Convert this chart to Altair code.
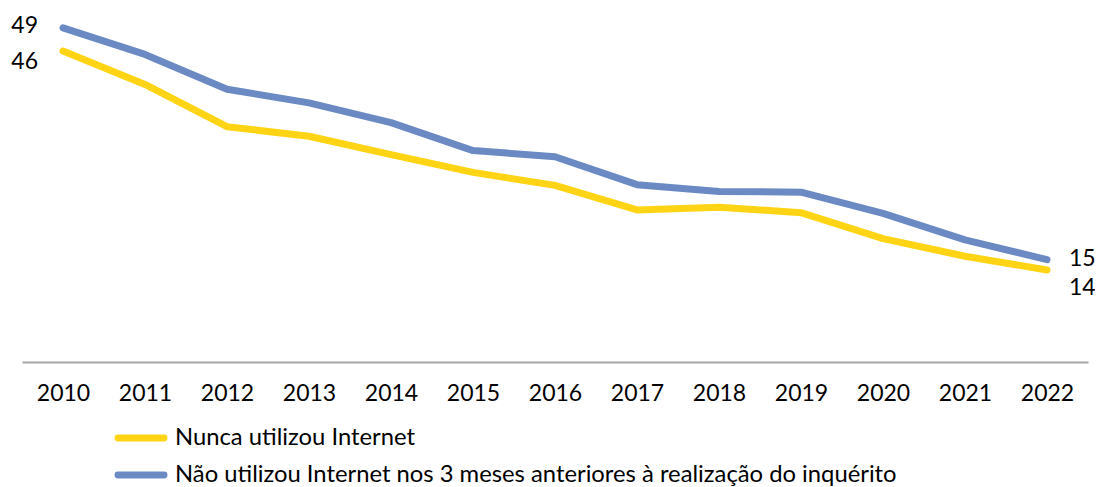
import altair as alt
import pandas as pd

years = [str(y) for y in range(2010, 2023)]
nunca = [45.6, 40.7, 34.5, 33.1, 30.4, 27.8, 25.9, 22.3, 22.7, 21.9, 18.1, 15.5, 13.5]
nao = [49.0, 45.1, 40.0, 38.0, 35.1, 31.0, 30.1, 26.0, 25.0, 24.9, 21.8, 17.9, 15.0]
series_names = [
    "Nunca utilizou Internet",
    "Não utilizou Internet nos 3 meses anteriores à realização do inquérito",
]
colors = ["#FFD414", "#6B8AC4"]

df = pd.DataFrame({
    "ano": years * 2,
    "valor": nunca + nao,
    "serie": [series_names[0]] * len(years) + [series_names[1]] * len(years),
})

FONT = "Lato"
FS = 23

capsule = ("M-1,-0.065 L1,-0.065 A0.065,0.065 0 0 1 1,0.065 "
           "L-1,0.065 A0.065,0.065 0 0 1 -1,-0.065 Z")

x = alt.X("ano:O", scale=alt.Scale(type="point", padding=0.5),
          axis=alt.Axis(title=None, labelAngle=0, ticks=False, domainColor="#A6A6A6",
                        domainWidth=2, labelFontSize=FS, labelPadding=20,
                        labelColor="black", labelFont=FONT))
y = alt.Y("valor:Q", scale=alt.Scale(domain=[0, 50], nice=False), axis=None)
color = alt.Color("serie:N", scale=alt.Scale(domain=series_names, range=colors),
                  legend=alt.Legend(title=None, orient="none", legendX=94, legendY=392,
                                    direction="vertical", symbolType=capsule,
                                    symbolSize=2116, symbolStrokeWidth=4,
                                    labelFont=FONT, labelFontSize=23.8, labelColor="black",
                                    labelLimit=2000, labelOffset=9, rowPadding=-16,
                                    padding=0))

base = alt.Chart(df)
lines = base.mark_line(strokeWidth=7, strokeCap="round", strokeJoin="round").encode(
    x=x, y=y, color=color)

def lab(year, serie, align, dx, dy):
    return base.transform_filter(
        (alt.datum.ano == year) & (alt.datum.serie == serie)
    ).mark_text(align=align, baseline="middle", dx=dx, dy=dy, font=FONT,
                fontSize=FS, color="black").encode(
        x=x, y=y, text=alt.Text("valor:Q", format=".0f"))

labels = [
    lab("2010", series_names[1], "right", -25, -1.5),
    lab("2010", series_names[0], "right", -25, 10.5),
    lab("2022", series_names[1], "left", 22, -0.5),
    lab("2022", series_names[0], "left", 22, 18),
]

chart = alt.layer(lines, *labels).properties(
    width=1066, height=341,
    autosize=alt.AutoSizeParams(type="none"),
    padding={"left": 14, "top": 13, "right": 7, "bottom": 124},
).configure_view(stroke=None)

chart.save("out.html", embed_options={"renderer": "svg", "actions": False})
